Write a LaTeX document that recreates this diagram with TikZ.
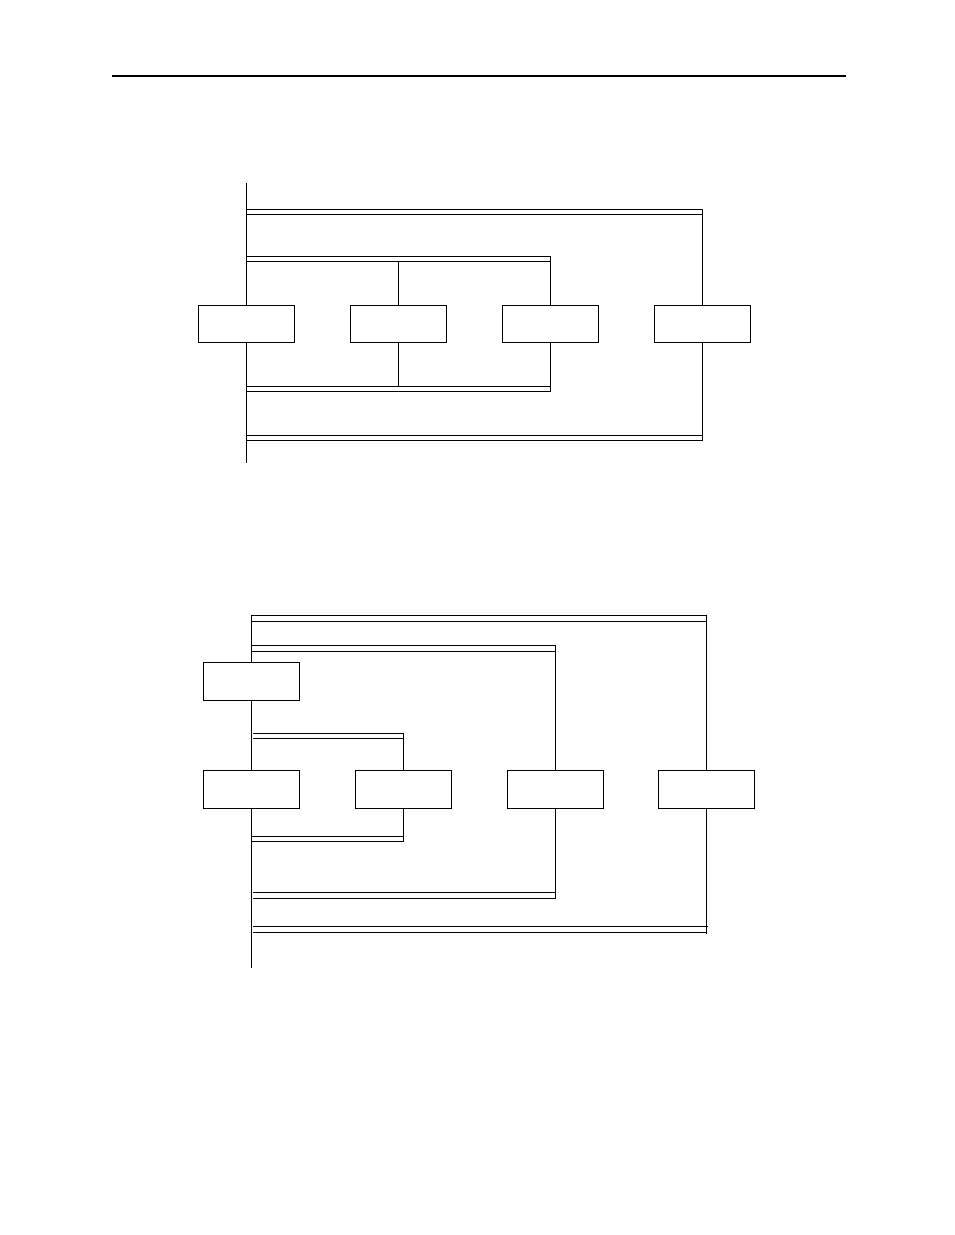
\documentclass[tikz,border=0pt]{standalone}
\begin{document}
\begin{tikzpicture}[x=1pt,y=-1pt,line width=0.9pt,
  stepbox/.style={draw,minimum width=96pt,minimum height=37pt,inner sep=0pt,line width=0.9pt},
  rail/.style={line width=0.9pt}]
\useasboundingbox (0,0) rectangle (954,1235);
% header rule
\coordinate (hl) at (112,75.7);
\coordinate (hr) at (846,75.7);
\draw[line width=2pt] (hl) -- (hr);

% ---------------- diagram 1 ----------------
\node[stepbox] (b1) at (246.5,323.8) {};
\node[stepbox] (b2) at (398.3,323.8) {};
\node[stepbox] (b3) at (550.3,323.8) {};
\node[stepbox] (b4) at (702.3,323.8) {};
\coordinate (m1top) at (246.3,183);
\coordinate (m1bot) at (246.3,463);
% outer divergence
\coordinate (o1a) at (246.3,209.3);
\coordinate (o1b) at (702.3,209.3);
\coordinate (o1c) at (246.3,214.3);
\draw[rail] (o1a) -- (o1b) |- (o1c);
% inner divergence
\coordinate (i1a) at (246.3,256.3);
\coordinate (i1b) at (550.3,256.3);
\coordinate (i1c) at (246.3,261.3);
\draw[rail] (i1a) -- (i1b) |- (i1c);
% inner convergence
\coordinate (i2a) at (246.3,386.3);
\coordinate (i2b) at (550.3,386.3);
\coordinate (i2c) at (246.3,391.3);
\draw[rail] (i2a) -- (i2b) |- (i2c);
% outer convergence
\coordinate (o2a) at (246.3,435.3);
\coordinate (o2b) at (702.3,435.3);
\coordinate (o2c) at (246.3,440.3);
\draw[rail] (o2a) -- (o2b) |- (o2c);
% branches
\draw (m1top) -- (m1top |- b1.north);
\draw (m1bot |- b1.south) -- (m1bot);
\draw (b2.north) -- (b2.north |- i1c);
\draw (b2.south) -- (b2.south |- i2a);
\draw (b3.north) -- (b3.north |- i1c);
\draw (b3.south) -- (b3.south |- i2c);
\draw (b4.north) -- (b4.north |- o1c);
\draw (b4.south) -- (b4.south |- o2c);

% ---------------- diagram 2 ----------------
\begin{scope}[stepbox/.append style={minimum height=38pt}]
\node[stepbox] (ba) at (251.3,681.8) {};
\node[stepbox] (bb) at (251.3,789.3) {};
\node[stepbox] (bc) at (403.3,789.3) {};
\node[stepbox] (bd) at (555.3,789.3) {};
\node[stepbox] (be) at (706.3,789.3) {};
\end{scope}
\coordinate (m2top) at (251.3,615);
\coordinate (m2bot) at (251.3,968);
% outer divergence
\coordinate (p1a) at (251.3,615);
\coordinate (p1b) at (706.3,615);
\coordinate (p1c) at (251.3,621.3);
\draw[rail] (p1a) -- (p1b) |- (p1c);
% second divergence
\coordinate (p2a) at (251.3,645.3);
\coordinate (p2b) at (555.3,645.3);
\coordinate (p2c) at (251.3,651.3);
\draw[rail] (p2a) -- (p2b) |- (p2c);
% inner divergence
\coordinate (p3a) at (253,733.3);
\coordinate (p3b) at (403.3,733.3);
\coordinate (p3c) at (253,738.3);
\draw[rail] (p3a) -- (p3b) |- (p3c);
% inner convergence
\coordinate (p4a) at (251.3,836.3);
\coordinate (p4b) at (403.3,836.3);
\coordinate (p4c) at (251.3,841);
\draw[rail] (p4a) -- (p4b) |- (p4c);
% second convergence
\coordinate (p5a) at (253,892.3);
\coordinate (p5b) at (555.3,892.3);
\coordinate (p5c) at (253,898.3);
\draw[rail] (p5a) -- (p5b) |- (p5c);
% outer convergence
\coordinate (p6a) at (253,926.3);
\coordinate (p6b) at (707.7,926.3);
\coordinate (p6c) at (253,932.3);
\coordinate (p6d) at (706.3,932.3);
\draw[rail] (p6a) -- (p6b);
\draw[rail] (p6c) -- (p6d);
\coordinate (e2bot) at (706.3,933.5);
% branches
\draw (m2top) -- (ba.north);
\draw (ba.south) -- (bb.north);
\draw (bb.south) -- (m2bot);
\draw (bc.north) -- (bc.north |- p3c);
\draw (bc.south) -- (bc.south |- p4c);
\draw (bd.north) -- (bd.north |- p2c);
\draw (bd.south) -- (bd.south |- p5c);
\draw (be.north) -- (be.north |- p1c);
\draw (be.south) -- (be.south |- e2bot);
\end{tikzpicture}
\end{document}
